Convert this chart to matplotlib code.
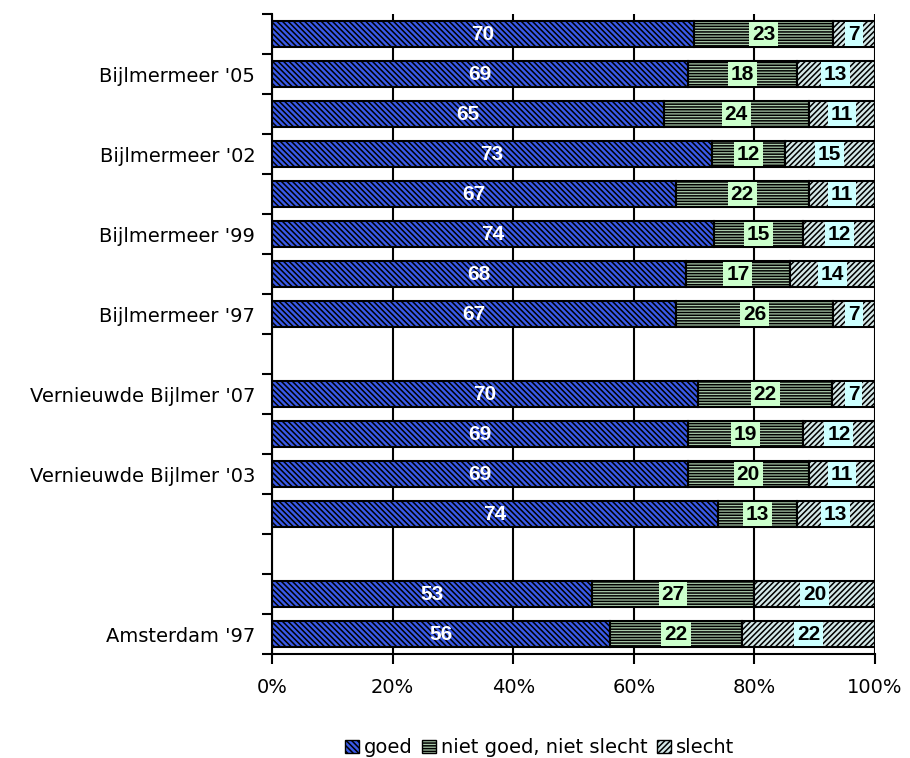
import numpy as np
import matplotlib
matplotlib.use("Agg")
import matplotlib.pyplot as plt
from matplotlib.patches import Patch

# Rows from top to bottom; empty strings are rows whose label is not shown,
# None marks the spacer rows between groups.
categories = ["", "Bijlmermeer '05", "", "Bijlmermeer '02", "", "Bijlmermeer '99", "",
              "Bijlmermeer '97", None, "Vernieuwde Bijlmer '07", "",
              "Vernieuwde Bijlmer '03", "", None, "", "Amsterdam '97"]
goed = [70, 69, 65, 73, 67, 74, 68, 67, np.nan, 70, 69, 69, 74, np.nan, 53, 56]
neutraal = [23, 18, 24, 12, 22, 15, 17, 26, np.nan, 22, 19, 20, 13, np.nan, 27, 22]
slecht = [7, 13, 11, 15, 11, 12, 14, 7, np.nan, 7, 12, 11, 13, np.nan, 20, 22]
series_names = ["goed", "niet goed, niet slecht", "slecht"]
x_ticks = [0, 0.2, 0.4, 0.6, 0.8, 1.0]
x_ticklabels = ["0%", "20%", "40%", "60%", "80%", "100%"]

plt.rcParams["hatch.linewidth"] = 1.1
plt.rcParams["hatch.color"] = "#1a1a2a"

fig = plt.figure(figsize=(9.10, 7.58), dpi=100)
ax = fig.add_axes([272 / 910, 1 - 654 / 758, 603 / 910, 640 / 758])

styles = [
    dict(color="#3a5ae8", hatch="\\\\\\\\\\\\"),
    dict(color="#a8c8a8", hatch="------"),
    dict(color="#d4e8e8", hatch="//////"),
]

goed_a = np.array(goed, dtype=float)
neu_a = np.array(neutraal, dtype=float)
sle_a = np.array(slecht, dtype=float)
total = goed_a + neu_a + sle_a
shares = [goed_a / total, neu_a / total, sle_a / total]
raw = [goed_a, neu_a, sle_a]

ypos = np.arange(len(categories))
bar_h = 0.64
left = np.zeros(len(categories))
for k, (share, st) in enumerate(zip(shares, styles)):
    mask = ~np.isnan(share)
    ax.barh(ypos[mask], share[mask], left=left[mask], height=bar_h,
            facecolor=st["color"], hatch=st["hatch"], edgecolor="black",
            linewidth=1.5, zorder=3)
    for y, l, w, v in zip(ypos[mask], left[mask], share[mask], raw[k][mask]):
        cx = l + w / 2
        if k == 0:
            ax.text(cx, y, f"{int(v)}", ha="center", va="center", color="white",
                    fontsize=15, fontweight="bold", family="Liberation Sans", zorder=5)
        else:
            bg = "#ccffcc" if k == 1 else "#ccffff"
            ax.text(cx, y, f"{int(v)}", ha="center", va="center", color="black",
                    fontsize=15, fontweight="bold", family="Liberation Sans", zorder=5,
                    bbox=dict(boxstyle="square,pad=0.14", facecolor=bg,
                              edgecolor="none"))
    left = left + np.nan_to_num(share)

ax.set_xlim(0, 1)
ax.set_ylim(len(categories) - 0.5, -0.5)

ax.set_xticks(x_ticks)
ax.set_xticklabels(x_ticklabels, fontsize=14, family="DejaVu Sans")
ax.tick_params(axis="x", direction="out", length=7, width=1.5, pad=10, color="black")

ax.set_yticks(ypos)
ax.set_yticklabels([c if c else "" for c in categories], fontsize=14,
                   family="DejaVu Sans")
ax.tick_params(axis="y", which="major", length=0, pad=12)
ax.set_yticks(np.arange(-0.5, len(categories) + 0.5, 1), minor=True)
ax.tick_params(axis="y", which="minor", direction="out", length=7, width=1.5)

ax.xaxis.grid(True, color="black", linewidth=1.5, zorder=0)
ax.set_axisbelow(True)
for side in ("top", "right"):
    ax.spines[side].set_visible(False)
for side in ("left", "bottom"):
    ax.spines[side].set_linewidth(1.5)

handles = [Patch(facecolor=st["color"], hatch=st["hatch"], edgecolor="black",
                 linewidth=1.0, label=name) for st, name in zip(styles, series_names)]
fig.legend(handles=handles, loc="lower center", bbox_to_anchor=(0.593, -0.022),
           ncol=3, frameon=False, handlelength=0.7,
           handleheight=0.7, handletextpad=0.25, columnspacing=0.5,
           prop=dict(family="DejaVu Sans", size=14))

fig.savefig("out.png", dpi=100)
